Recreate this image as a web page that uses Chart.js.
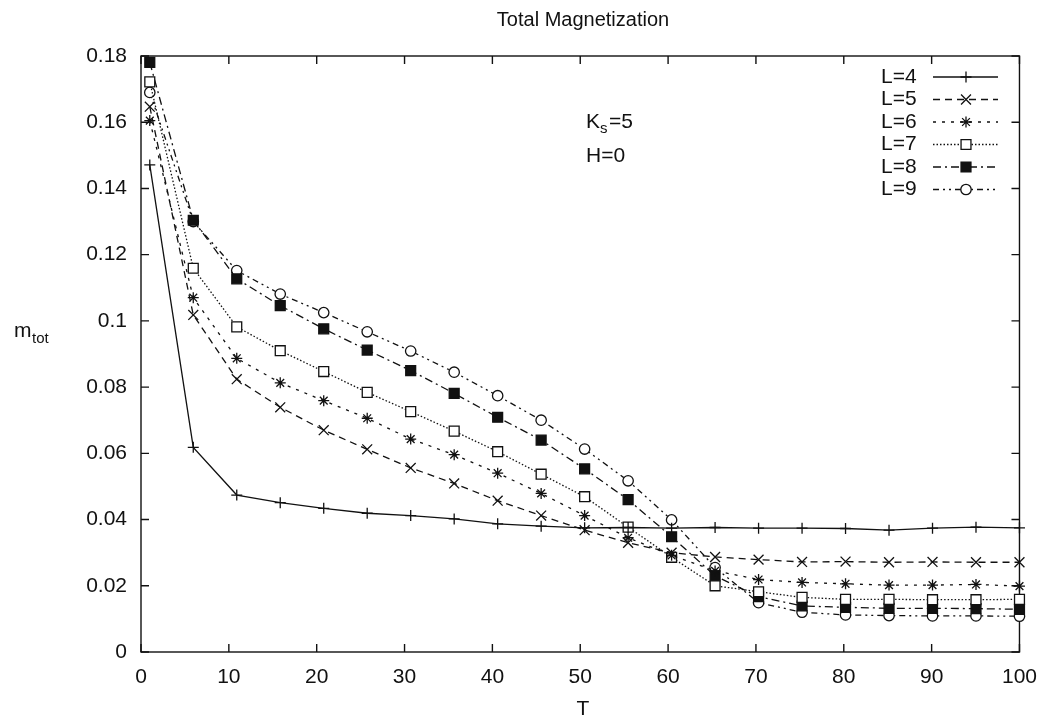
<!DOCTYPE html>
<html>
<head>
<meta charset="utf-8">
<title>Total Magnetization</title>
<script src="https://cdn.jsdelivr.net/npm/chart.js@4/dist/chart.umd.min.js"></script>
<style>
    html, body { margin: 0; padding: 0; background: #fff; }
    #chartHolder { width: 1050px; height: 719px; }
</style>
</head>
<body>
<div id="chartHolder"><canvas id="magChart" width="1050" height="719"></canvas></div>
<script>
//Temperatures (21 points from 1 to 100)
let temperatures = [1, 5.95, 10.9, 15.85, 20.8, 25.75, 30.7, 35.65, 40.6, 45.55, 50.5,
    55.45, 60.4, 65.35, 70.3, 75.25, 80.2, 85.15, 90.1, 95.05, 100];

//Magnetization per lattice size
let magL4 = [0.1471, 0.0618, 0.0474, 0.0451, 0.0434, 0.0419, 0.0412, 0.0402, 0.0387, 0.0380, 0.0375,
    0.0376, 0.0374, 0.0376, 0.0374, 0.0374, 0.0373, 0.0368, 0.0374, 0.0377, 0.0375];
let magL5 = [0.1647, 0.1018, 0.0824, 0.0739, 0.0670, 0.0612, 0.0556, 0.0509, 0.0457, 0.0412, 0.0368,
    0.0330, 0.0300, 0.0287, 0.0279, 0.0272, 0.0273, 0.0271, 0.0272, 0.0271, 0.0271];
let magL6 = [0.1605, 0.1070, 0.0887, 0.0813, 0.0759, 0.0706, 0.0643, 0.0596, 0.0540, 0.0479, 0.0412,
    0.0345, 0.0292, 0.0245, 0.0219, 0.0210, 0.0206, 0.0202, 0.0202, 0.0204, 0.0199];
let magL7 = [0.1722, 0.1159, 0.0982, 0.0910, 0.0847, 0.0784, 0.0726, 0.0667, 0.0605, 0.0537, 0.0469,
    0.0377, 0.0286, 0.0200, 0.0182, 0.0165, 0.0159, 0.0159, 0.0158, 0.0158, 0.0159];
let magL8 = [0.1781, 0.1304, 0.1127, 0.1046, 0.0976, 0.0912, 0.0850, 0.0781, 0.0709, 0.0640, 0.0553,
    0.0460, 0.0348, 0.0230, 0.0167, 0.0139, 0.0135, 0.0132, 0.0132, 0.0131, 0.0129];
let magL9 = [0.1690, 0.1300, 0.1152, 0.1081, 0.1025, 0.0967, 0.0909, 0.0845, 0.0774, 0.0700, 0.0613,
    0.0517, 0.0399, 0.0255, 0.0149, 0.0120, 0.0112, 0.0110, 0.0109, 0.0109, 0.0108];

let seriesLabels = ['L=4', 'L=5', 'L=6', 'L=7', 'L=8', 'L=9'];
let seriesData = [magL4, magL5, magL6, magL7, magL8, magL9];

//Line and marker style for each series (gnuplot look)
let seriesStyles = [
    { dash: [], point: 'cross', radius: 5.5, fill: '#fff' },
    { dash: [7, 5], point: 'crossRot', radius: 7, fill: '#fff' },
    { dash: [3, 6], point: 'star', radius: 5.5, fill: '#fff' },
    { dash: [1.5, 2], point: 'rect', radius: 7, fill: '#fff' },
    { dash: [8, 4, 2, 4], point: 'rect', radius: 7, fill: '#111' },
    { dash: [6, 4, 2, 4, 2, 4], point: 'circle', radius: 5.2, fill: '#fff' }
];

let fontFamily = "'Liberation Sans', Arial, Helvetica, sans-serif";
let inkColor = '#111';

$buildDatasets = function () {
    let sets = [];
    for (let i = 0; i < seriesData.length; i++) {
        let st = seriesStyles[i];
        sets[i] = {
            label: seriesLabels[i],
            data: seriesData[i].map((v, j) => ({ x: temperatures[j], y: v })),
            borderColor: inkColor,
            borderWidth: 1.3,
            borderDash: st.dash,
            pointStyle: st.point,
            pointRadius: st.radius,
            pointBorderWidth: 1.3,
            pointBorderColor: inkColor,
            pointBackgroundColor: st.fill,
            tension: 0,
            fill: false,
            clip: false
        };
    }
    return sets;
};

//Border, inward ticks, titles, annotation and legend
let decorPlugin = {
    id: 'decor',
    beforeDatasetsDraw: function (chart) {
        let ctx = chart.ctx;
        let area = chart.chartArea;
        ctx.save();
        ctx.strokeStyle = inkColor;
        ctx.lineWidth = 1.4;
        ctx.setLineDash([]);
        ctx.strokeRect(area.left, area.top, area.right - area.left, area.bottom - area.top);

        let tickLen = 8;
        ctx.beginPath();
        chart.scales.x.ticks.forEach(function (t) {
            let px = chart.scales.x.getPixelForValue(t.value);
            ctx.moveTo(px, area.bottom);
            ctx.lineTo(px, area.bottom - tickLen);
            ctx.moveTo(px, area.top);
            ctx.lineTo(px, area.top + tickLen);
        });
        chart.scales.y.ticks.forEach(function (t) {
            let py = chart.scales.y.getPixelForValue(t.value);
            ctx.moveTo(area.left, py);
            ctx.lineTo(area.left + tickLen, py);
            ctx.moveTo(area.right, py);
            ctx.lineTo(area.right - tickLen, py);
        });
        ctx.stroke();
        ctx.restore();
    },
    afterDraw: function (chart) {
        let ctx = chart.ctx;
        ctx.save();
        ctx.fillStyle = inkColor;
        ctx.textBaseline = 'middle';

        //Chart title and x axis title
        ctx.font = '20px ' + fontFamily;
        ctx.textAlign = 'center';
        ctx.fillText('Total Magnetization', 583, 20);
        ctx.font = '21px ' + fontFamily;
        ctx.fillText('T', 583, 709);

        //y axis title m_tot
        ctx.textAlign = 'left';
        ctx.fillText('m', 14, 331);
        ctx.font = '15px ' + fontFamily;
        ctx.fillText('tot', 32, 339);

        //Parameters
        ctx.font = '21px ' + fontFamily;
        ctx.fillText('K', 586, 122);
        ctx.font = '15px ' + fontFamily;
        ctx.fillText('s', 600, 129);
        ctx.font = '21px ' + fontFamily;
        ctx.fillText('=5', 609, 122);
        ctx.fillText('H=0', 586, 156);

        //Legend: label, line sample, marker
        let drawPoint = Chart.helpers && Chart.helpers.drawPoint;
        chart.data.datasets.forEach(function (ds, i) {
            let rowY = 77 + i * 22.5;
            ctx.fillStyle = inkColor;
            ctx.font = '21px ' + fontFamily;
            ctx.textAlign = 'left';
            ctx.fillText(ds.label, 881, rowY);

            ctx.strokeStyle = inkColor;
            ctx.lineWidth = ds.borderWidth;
            ctx.setLineDash(ds.borderDash);
            ctx.beginPath();
            ctx.moveTo(933, rowY);
            ctx.lineTo(998, rowY);
            ctx.stroke();

            if (drawPoint) {
                ctx.setLineDash([]);
                ctx.fillStyle = ds.pointBackgroundColor;
                ctx.strokeStyle = inkColor;
                ctx.lineWidth = ds.pointBorderWidth;
                drawPoint(ctx, { pointStyle: ds.pointStyle, radius: ds.pointRadius, borderWidth: ds.pointBorderWidth, rotation: 0 }, 966, rowY);
            }
        });
        ctx.restore();
    }
};

Chart.defaults.font.family = fontFamily;
Chart.defaults.font.size = 21;
Chart.defaults.color = inkColor;

new Chart(
    document.getElementById('magChart'),
    {
        type: 'line',
        data: {
            datasets: $buildDatasets()
        },
        options: {
            responsive: false,
            animation: false,
            devicePixelRatio: 1,
            layout: { padding: { left: 0, right: 26, top: 56, bottom: 0 } },
            plugins: {
                legend: { display: false },
                title: { display: false },
                tooltip: { enabled: false }
            },
            events: [],
            scales: {
                x: {
                    type: 'linear',
                    min: 0,
                    max: 100,
                    grid: { display: false, drawTicks: false },
                    border: { display: false },
                    ticks: { stepSize: 10, padding: 13, maxRotation: 0 },
                    afterFit: function (scale) { scale.height = 67; }
                },
                y: {
                    type: 'linear',
                    min: 0,
                    max: 0.18,
                    grid: { display: false, drawTicks: false },
                    border: { display: false },
                    ticks: {
                        stepSize: 0.02,
                        padding: 14,
                        callback: function (v) { return String(+v.toFixed(2)); }
                    },
                    afterFit: function (scale) { scale.width = 141; }
                }
            }
        },
        plugins: [decorPlugin]
    }
);
</script>
</body>
</html>
